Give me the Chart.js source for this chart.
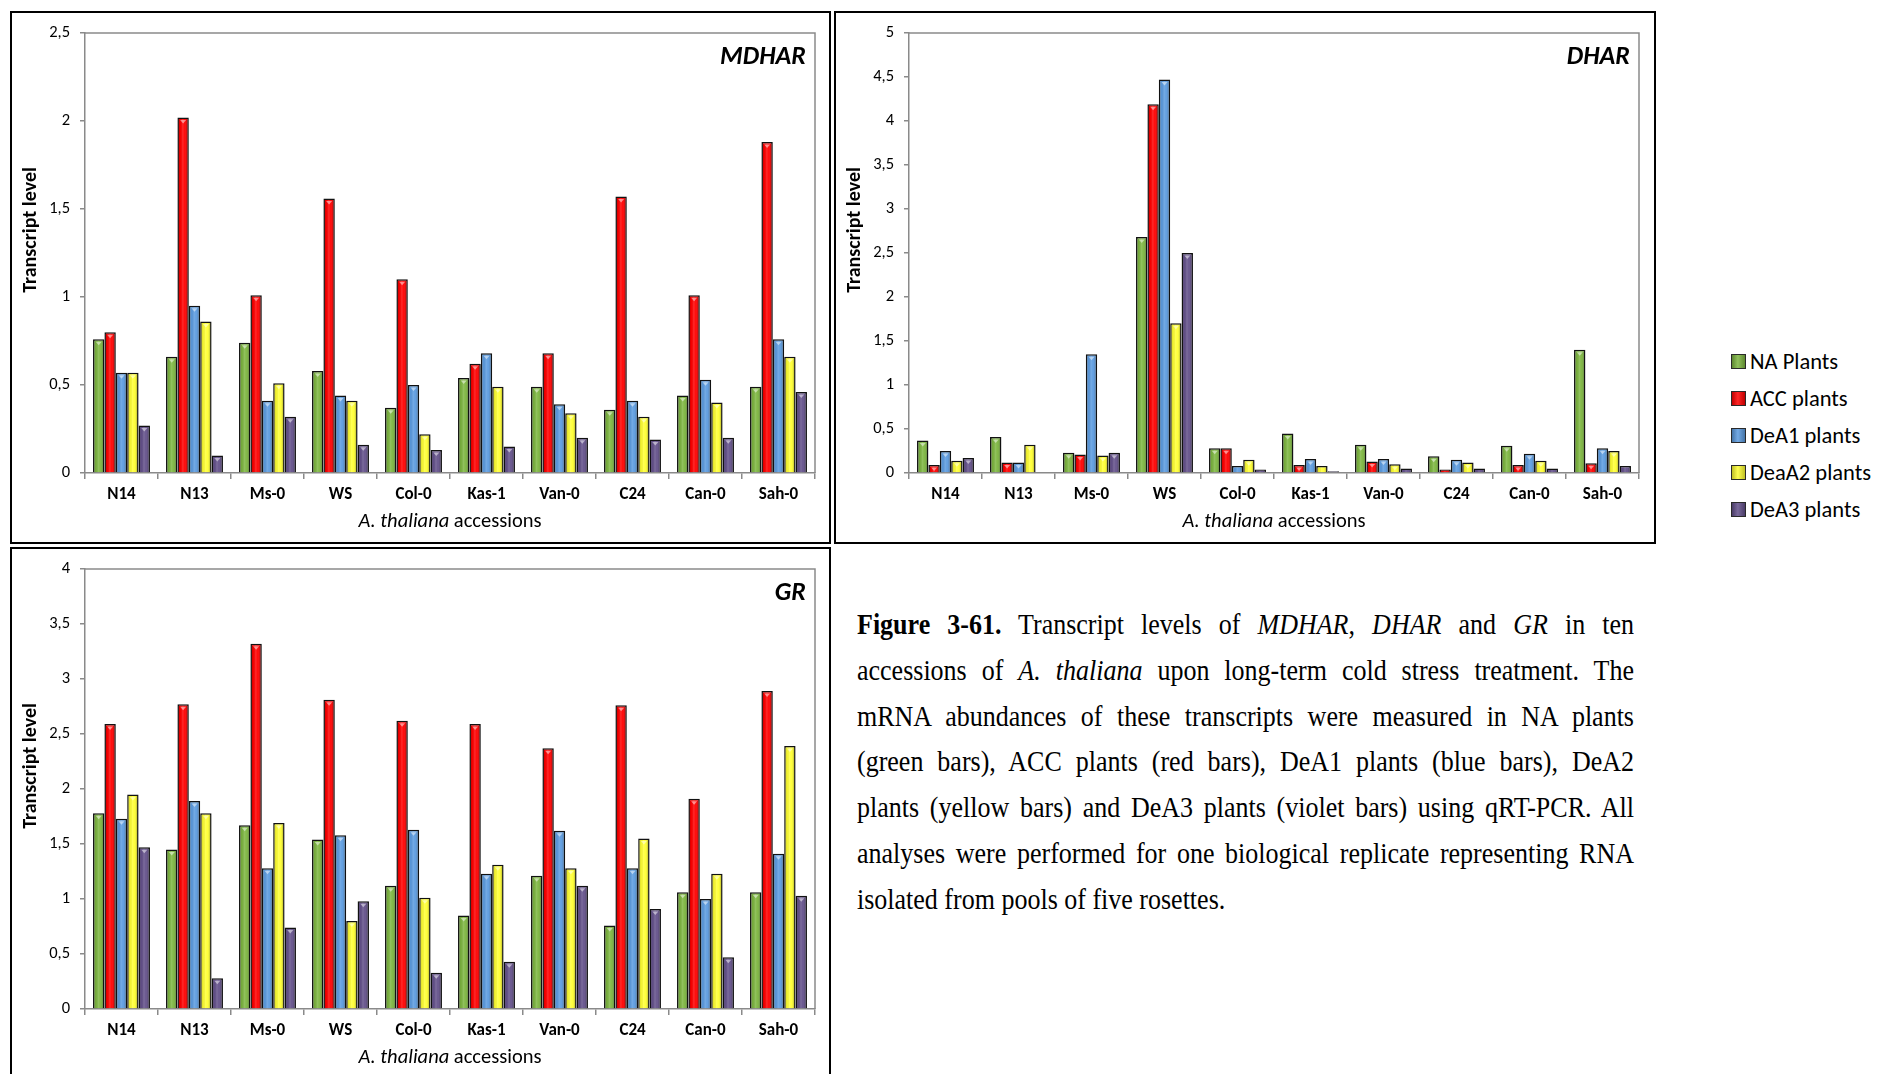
<!DOCTYPE html>
<html>
<head>
<meta charset="utf-8">
<script src="https://cdn.jsdelivr.net/npm/chart.js@4.4.1/dist/chart.umd.min.js"></script>
<style>
  html, body { margin: 0; padding: 0; background: #fff; width: 1879px; height: 1074px; overflow: hidden; }
  .panel { position: absolute; border: 2px solid #000; box-sizing: border-box; overflow: hidden; }
  .panel canvas { position: absolute; left: 0; top: 0; }
  #legend { position: absolute; left: 1731px; top: 343px; font-family: Carlito, Lato, sans-serif; font-size: 22.5px; color: #000; }
  #legend .item { height: 37px; display: flex; align-items: center; white-space: nowrap; }
  #legend .sw { width: 13px; height: 13px; border: 1.5px solid #2a2a2a; margin-right: 4px; box-sizing: content-box; }
  #caption { position: absolute; left: 857px; top: 602px; width: 777px; font-family: "Liberation Serif", "Times New Roman", serif; font-size: 26px; color: #000; }
  #caption .ln { height: 45.8px; line-height: 45.8px; text-align: justify; text-align-last: justify; white-space: nowrap; transform: scaleY(1.1); }
  #caption .ln.last { text-align-last: left; }
</style>
</head>
<body>
<div class="panel" style="left:10px;top:11px;width:821px;height:533px;"><canvas id="cMDHAR" width="817" height="529"></canvas></div>
<div class="panel" style="left:834px;top:11px;width:822px;height:533px;"><canvas id="cDHAR" width="818" height="529"></canvas></div>
<div class="panel" style="left:10px;top:547px;width:821px;height:540px;"><canvas id="cGR" width="817" height="525"></canvas></div>
<div id="legend"></div>
<div id="caption">
  <div class="ln"><b>Figure 3-61.</b> Transcript levels of <i>MDHAR</i>, <i>DHAR</i> and <i>GR</i> in ten</div>
  <div class="ln">accessions of <i>A. thaliana</i> upon long-term cold stress treatment. The</div>
  <div class="ln">mRNA abundances of these transcripts were measured in NA plants</div>
  <div class="ln">(green bars), ACC plants (red bars), DeA1 plants (blue bars), DeA2</div>
  <div class="ln">plants (yellow bars) and DeA3 plants (violet bars) using qRT-PCR. All</div>
  <div class="ln">analyses were performed for one biological replicate representing RNA</div>
  <div class="ln last">isolated from pools of five rosettes.</div>
</div>
<script>
// Accessions (x categories) and plant groups (series)
const accessions = ['N14', 'N13', 'Ms-0', 'WS', 'Col-0', 'Kas-1', 'Van-0', 'C24', 'Can-0', 'Sah-0'];
const groupNames = ['NA Plants', 'ACC plants', 'DeA1 plants', 'DeaA2 plants', 'DeA3 plants'];
const groupColors = ['#7db640', '#ff0000', '#5b9be0', '#ffff33', '#63508a'];

// MDHAR transcript levels
const mdharNA   = [0.76, 0.66, 0.74, 0.58, 0.37, 0.54, 0.49, 0.36, 0.44, 0.49];
const mdharACC  = [0.80, 2.02, 1.01, 1.56, 1.10, 0.62, 0.68, 1.57, 1.01, 1.88];
const mdharDeA1 = [0.57, 0.95, 0.41, 0.44, 0.50, 0.68, 0.39, 0.41, 0.53, 0.76];
const mdharDeA2 = [0.57, 0.86, 0.51, 0.41, 0.22, 0.49, 0.34, 0.32, 0.40, 0.66];
const mdharDeA3 = [0.27, 0.10, 0.32, 0.16, 0.13, 0.15, 0.20, 0.19, 0.20, 0.46];

// DHAR transcript levels
const dharNA   = [0.37, 0.41, 0.23, 2.68, 0.28, 0.45, 0.32, 0.19, 0.31, 1.40];
const dharACC  = [0.09, 0.12, 0.21, 4.19, 0.28, 0.09, 0.13, 0.04, 0.09, 0.11];
const dharDeA1 = [0.25, 0.12, 1.35, 4.47, 0.08, 0.16, 0.16, 0.15, 0.22, 0.28];
const dharDeA2 = [0.14, 0.32, 0.20, 1.70, 0.15, 0.08, 0.10, 0.12, 0.14, 0.25];
const dharDeA3 = [0.17, 0.00, 0.23, 2.50, 0.04, 0.02, 0.05, 0.05, 0.05, 0.08];

// GR transcript levels
const grNA   = [1.78, 1.45, 1.67, 1.54, 1.12, 0.85, 1.21, 0.76, 1.06, 1.06];
const grACC  = [2.59, 2.77, 3.32, 2.81, 2.62, 2.59, 2.37, 2.76, 1.91, 2.89];
const grDeA1 = [1.73, 1.89, 1.28, 1.58, 1.63, 1.23, 1.62, 1.28, 1.00, 1.41];
const grDeA2 = [1.95, 1.78, 1.69, 0.80, 1.01, 1.31, 1.28, 1.55, 1.23, 2.39];
const grDeA3 = [1.47, 0.28, 0.74, 0.98, 0.33, 0.43, 1.12, 0.91, 0.47, 1.03];

// Y-axis tick labels (decimal comma)
const mdharTicks = ['0', '0,5', '1', '1,5', '2', '2,5'];
const dharTicks  = ['0', '0,5', '1', '1,5', '2', '2,5', '3', '3,5', '4', '4,5', '5'];
const grTicks    = ['0', '0,5', '1', '1,5', '2', '2,5', '3', '3,5', '4'];

const FONT = 'Carlito, Lato, sans-serif';
const AXIS = '#8a8a8a';

// Plot frame, gene name and axis titles
const panelText = {
  id: 'panelText',
  afterDraw(chart, args, opts) {
    const { ctx, chartArea: a } = chart;
    ctx.save();
    ctx.strokeStyle = AXIS;
    ctx.lineWidth = 1.5;
    ctx.beginPath();
    ctx.moveTo(a.left, a.top);
    ctx.lineTo(a.right, a.top);
    ctx.lineTo(a.right, a.bottom);
    ctx.stroke();

    ctx.fillStyle = '#000';
    ctx.font = `italic bold 26px ${FONT}`;
    ctx.textAlign = 'right';
    ctx.textBaseline = 'alphabetic';
    ctx.fillText(opts.gene, a.right - 9, a.top + 31);

    ctx.save();
    ctx.translate(a.left - 54, (a.top + a.bottom) / 2 - 23);
    ctx.rotate(-Math.PI / 2);
    ctx.font = `bold 20px ${FONT}`;
    ctx.textAlign = 'center';
    ctx.textBaseline = 'middle';
    ctx.fillText('Transcript level', 0, 0);
    ctx.restore();

    const p1 = 'A. thaliana', p2 = ' accessions';
    const fs = 20.5;
    ctx.font = `italic ${fs}px ${FONT}`;
    const w1 = ctx.measureText(p1).width;
    ctx.font = `${fs}px ${FONT}`;
    const w2 = ctx.measureText(p2).width;
    const x0 = (a.left + a.right) / 2 - (w1 + w2) / 2;
    const yT = a.bottom + 49;
    ctx.textAlign = 'left';
    ctx.textBaseline = 'middle';
    ctx.font = `italic ${fs}px ${FONT}`;
    ctx.fillText(p1, x0, yT);
    ctx.font = `${fs}px ${FONT}`;
    ctx.fillText(p2, x0 + w1, yT);
    ctx.restore();
  }
};

// Shaded, bevelled look on top of each drawn bar
const barShade = {
  id: 'barShade',
  afterDatasetsDraw(chart) {
    const ctx = chart.ctx;
    ctx.save();
    chart.data.datasets.forEach((ds, di) => {
      const meta = chart.getDatasetMeta(di);
      meta.data.forEach(el => {
        const { x, y, base, width } = el.getProps(['x', 'y', 'base', 'width'], true);
        const h = base - y;
        if (h < 2) return;
        const bw = 1.5;
        const l = x - width / 2 + bw, r = x + width / 2 - bw, t = y + bw;
        const g = ctx.createLinearGradient(l, 0, r, 0);
        g.addColorStop(0, 'rgba(0,0,0,0.2)');
        g.addColorStop(0.15, 'rgba(0,0,0,0.04)');
        g.addColorStop(0.45, 'rgba(255,255,255,0.16)');
        g.addColorStop(0.7, 'rgba(255,255,255,0.04)');
        g.addColorStop(1, 'rgba(0,0,0,0.25)');
        ctx.fillStyle = g;
        ctx.fillRect(l, t, r - l, base - t);
        if (h > 7) {
          ctx.fillStyle = 'rgba(255,255,255,0.5)';
          ctx.beginPath();
          ctx.moveTo(x - 3, t + 1);
          ctx.lineTo(x + 3, t + 1);
          ctx.lineTo(x, t + 4.5);
          ctx.closePath();
          ctx.fill();
        }
      });
    });
    ctx.restore();
  }
};

function makeChart(id, gene, series, tickLabels, yMax, pad) {
  new Chart(document.getElementById(id), {
    type: 'bar',
    data: {
      labels: accessions,
      datasets: series.map((vals, i) => ({
        label: groupNames[i],
        data: vals,
        backgroundColor: groupColors[i],
        borderColor: '#111',
        borderWidth: 1.5,
        borderSkipped: 'start',
        categoryPercentage: 0.78,
        barPercentage: 1.0
      }))
    },
    options: {
      responsive: false,
      animation: false,
      devicePixelRatio: 1,
      layout: { padding: { top: pad.top, right: pad.right, left: 0, bottom: 0 } },
      plugins: {
        legend: { display: false },
        tooltip: { enabled: false },
        panelText: { gene }
      },
      scales: {
        x: {
          afterFit: s => { s.height = pad.bottom; },
          grid: { drawOnChartArea: false, drawTicks: true, tickLength: 6, color: AXIS, lineWidth: 1.5 },
          border: { color: AXIS, width: 1.5 },
          ticks: { color: '#000', font: { family: FONT, size: 17, weight: 'bold' }, padding: 6, maxRotation: 0 }
        },
        y: {
          min: 0,
          max: yMax,
          afterFit: s => { s.width = 73; },
          grid: { drawOnChartArea: false, drawTicks: true, tickLength: 5, color: AXIS, lineWidth: 1.5 },
          border: { color: AXIS, width: 1.5 },
          ticks: {
            stepSize: 0.5,
            color: '#000',
            font: { family: FONT, size: 16.5 },
            padding: 10,
            callback: v => tickLabels[Math.round(v / 0.5)]
          }
        }
      }
    },
    plugins: [barShade, panelText]
  });
}

makeChart('cMDHAR', 'MDHAR', [mdharNA, mdharACC, mdharDeA1, mdharDeA2, mdharDeA3], mdharTicks, 2.5,
  { top: 15, right: 14, bottom: 69 });
makeChart('cDHAR', 'DHAR', [dharNA, dharACC, dharDeA1, dharDeA2, dharDeA3], dharTicks, 5,
  { top: 15, right: 15, bottom: 69 });
makeChart('cGR', 'GR', [grNA, grACC, grDeA1, grDeA2, grDeA3], grTicks, 4,
  { top: 16, right: 14, bottom: 65 });

// Shared legend for the three panels
const legend = document.getElementById('legend');
groupNames.forEach((name, i) => {
  const item = document.createElement('div');
  item.className = 'item';
  const sw = document.createElement('span');
  sw.className = 'sw';
  sw.style.background = `linear-gradient(90deg, rgba(0,0,0,0.25), rgba(255,255,255,0.15) 45%, rgba(0,0,0,0.25)), ${groupColors[i]}`;
  const tx = document.createElement('span');
  tx.textContent = name;
  item.appendChild(sw);
  item.appendChild(tx);
  legend.appendChild(item);
});
</script>
</body>
</html>
